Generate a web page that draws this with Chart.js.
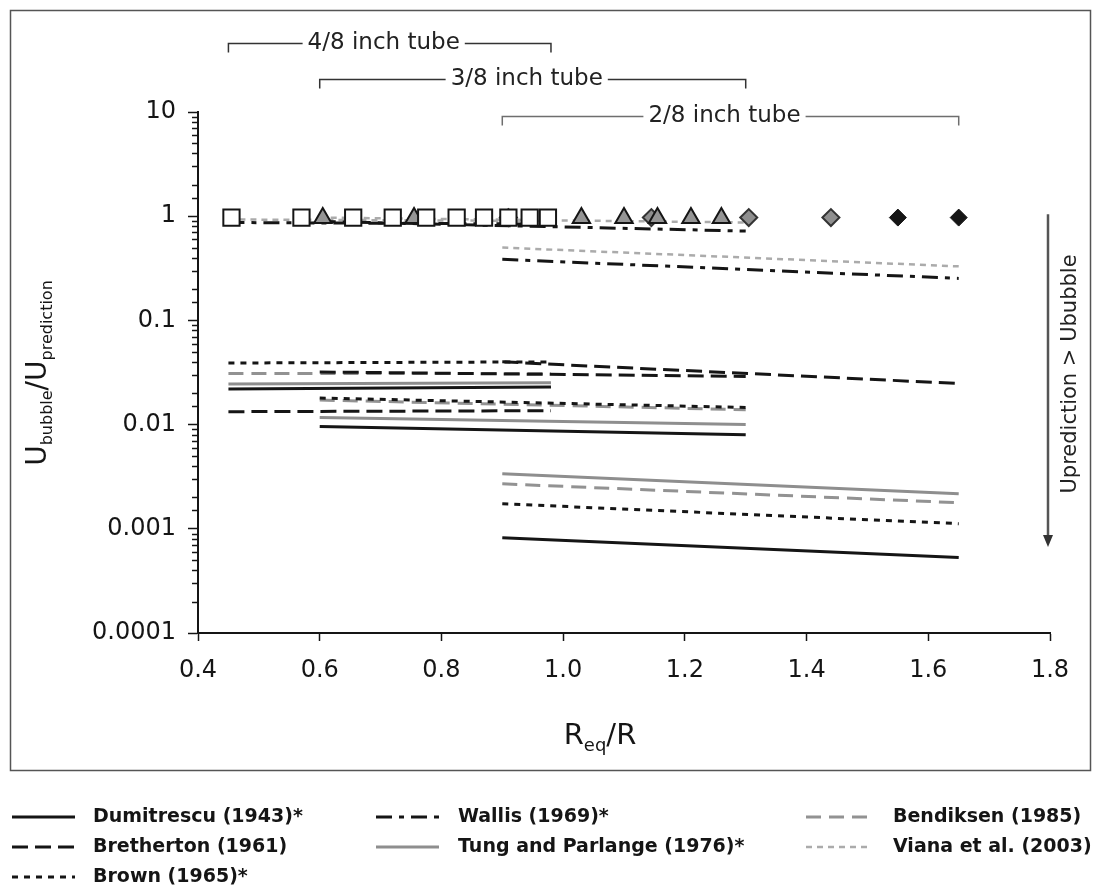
<!DOCTYPE html>
<html>
<head>
<meta charset="utf-8">
<script src="https://cdn.jsdelivr.net/npm/chart.js@4.4.0/dist/chart.umd.min.js"></script>
<style>
  html, body { margin: 0; padding: 0; background: #fff; }
</style>
</head>
<body>
<canvas id="bubbleChart" width="1101" height="896"></canvas>
<script>
// Tube ranges (Req/R) for each tube size
const tubeNames = ["4/8 inch tube", "3/8 inch tube", "2/8 inch tube"];
const tube48X = [0.45, 0.98];
const tube38X = [0.6, 1.3];
const tube28X = [0.9, 1.65];

// Ububble/Uprediction for each correlation: [4/8 tube], [3/8 tube], [2/8 tube]
const correlationNames = [
  "Dumitrescu (1943)*", "Bretherton (1961)", "Brown (1965)*",
  "Wallis (1969)*", "Tung and Parlange (1976)*",
  "Bendiksen (1985)", "Viana et al. (2003)"
];
const dumitrescu = [[0.022, 0.023], [0.0096, 0.0080], [0.00082, 0.00053]];
const bretherton = [[0.0133, 0.0136], [0.032, 0.029], [0.040, 0.0248]];
const brown = [[0.039, 0.040], [0.018, 0.0146], [0.00174, 0.00112]];
const wallis = [[0.87, 0.84], [0.89, 0.72], [0.386, 0.253]];
const tung = [[0.0245, 0.0252], [0.0117, 0.0100], [0.00338, 0.00217]];
const bendiksen = [[0.031, 0.031], [0.0172, 0.0139], [0.0027, 0.00178]];
const viana = [[0.93, 0.90], [0.97, 0.87], [0.50, 0.33]];

// Measured bubble velocities
const squareX = [0.455, 0.57, 0.655, 0.72, 0.775, 0.825, 0.87, 0.91, 0.945, 0.975];
const squareY = [0.97, 0.97, 0.97, 0.97, 0.97, 0.97, 0.97, 0.97, 0.97, 0.97];
const triangleX = [0.605, 0.755, 1.03, 1.10, 1.155, 1.21, 1.26];
const triangleY = [0.96, 0.96, 0.96, 0.96, 0.96, 0.96, 0.96];
const diamondGrayX = [0.91, 1.145, 1.305, 1.44];
const diamondGrayY = [0.97, 0.97, 0.97, 0.97];
const diamondBlackX = [1.55, 1.65];
const diamondBlackY = [0.97, 0.97];

// Tick labels
const xTicks = [0.4, 0.6, 0.8, 1.0, 1.2, 1.4, 1.6, 1.8];
const yRange = [0.0001, 10];

const FONT = "'DejaVu Sans', 'Liberation Sans', sans-serif";
const BLACK = "#151515";

// Line look for each correlation (same order as names)
const lineStyles = [
  { color: BLACK, dash: [], width: 3 },
  { color: BLACK, dash: [16, 7], width: 3 },
  { color: BLACK, dash: [6, 6], width: 3 },
  { color: BLACK, dash: [16, 7, 5, 7], width: 3 },
  { color: "#8e8e8e", dash: [], width: 3 },
  { color: "#929292", dash: [15, 8], width: 3 },
  { color: "#ababab", dash: [6, 5], width: 2.5 }
];
// legend slot [column, row] for each correlation
const legendSlots = [[0, 0], [0, 1], [0, 2], [1, 0], [1, 1], [2, 0], [2, 1]];

const correlationValues = [dumitrescu, bretherton, brown, wallis, tung, bendiksen, viana];
const tubeX = [tube48X, tube38X, tube28X];

function zip(xs, ys) {
  return xs.map((x, i) => ({ x: x, y: ys[i] }));
}

function isPow10(v) {
  const l = Math.log10(v);
  return Math.abs(l - Math.round(l)) < 1e-6;
}

function fmtPow10(v) {
  const e = Math.round(Math.log10(v));
  return e >= 0 ? String(Math.pow(10, e)) : Math.pow(10, e).toFixed(-e);
}

// Build datasets
const datasets = [
  { data: zip(squareX, squareY), pointStyle: "rect", pointRadius: 11.5, backgroundColor: "#fff", borderColor: BLACK, borderWidth: 2, showLine: false, order: 0 },
  { data: zip(triangleX, triangleY), pointStyle: "triangle", pointRadius: 10, backgroundColor: "#959595", borderColor: BLACK, borderWidth: 2, showLine: false, order: 0 },
  { data: zip(diamondGrayX, diamondGrayY), pointStyle: "rectRot", pointRadius: 8.5, backgroundColor: "#8f8f8f", borderColor: "#333", borderWidth: 2, showLine: false, order: 0 },
  { data: zip(diamondBlackX, diamondBlackY), pointStyle: "rectRot", pointRadius: 8.5, backgroundColor: BLACK, borderColor: BLACK, borderWidth: 1, showLine: false, order: 0 }
];

correlationValues.forEach((vals, c) => {
  const st = lineStyles[c];
  vals.forEach((pair, t) => {
    datasets.push({
      label: correlationNames[c],
      data: zip(tubeX[t], pair),
      showLine: true,
      borderColor: st.color,
      borderDash: st.dash,
      borderWidth: st.width,
      pointRadius: 0,
      fill: false,
      order: 1
    });
  });
});

// Draw text pieces (with subscripts) one after another
function drawParts(ctx, parts, cx, baseY) {
  let total = 0;
  parts.forEach(p => {
    ctx.font = p.size + "px " + FONT;
    p.w = ctx.measureText(p.t).width;
    total += p.w;
  });
  let x = cx - total / 2;
  ctx.textAlign = "left";
  ctx.textBaseline = "alphabetic";
  parts.forEach(p => {
    ctx.font = p.size + "px " + FONT;
    ctx.fillText(p.t, x, baseY + p.dy);
    x += p.w;
  });
}

const decorations = {
  id: "decorations",
  afterDraw(chart) {
    const { ctx, chartArea } = chart;
    const xs = chart.scales.x, ys = chart.scales.y;
    ctx.save();

    // outer frame
    ctx.strokeStyle = "#555";
    ctx.lineWidth = 1.5;
    ctx.strokeRect(10.5, 10.5, 1080, 760);

    // minor ticks on the log axis
    ctx.strokeStyle = BLACK;
    ctx.lineWidth = 1.5;
    ys.ticks.forEach(t => {
      if (isPow10(t.value)) return;
      const py = Math.round(ys.getPixelForValue(t.value)) + 0.5;
      ctx.beginPath();
      ctx.moveTo(chartArea.left - 6, py);
      ctx.lineTo(chartArea.left, py);
      ctx.stroke();
    });

    // axis titles
    ctx.fillStyle = BLACK;
    drawParts(ctx, [
      { t: "R", size: 29, dy: 0 },
      { t: "eq", size: 18, dy: 7 },
      { t: "/R", size: 29, dy: 0 }
    ], 600, 744);

    ctx.save();
    ctx.translate(46, 373);
    ctx.rotate(-Math.PI / 2);
    drawParts(ctx, [
      { t: "U", size: 28, dy: 0 },
      { t: "bubble", size: 16, dy: 6 },
      { t: "/U", size: 28, dy: 0 },
      { t: "prediction", size: 16, dy: 6 }
    ], 0, 0);
    ctx.restore();

    // tube brackets
    const bracketY = [43, 79, 116];
    const bracketColor = ["#333", "#333", "#6e6e6e"];
    tubeNames.forEach((name, i) => {
      const x1 = xs.getPixelForValue(tubeX[i][0]);
      const x2 = xs.getPixelForValue(tubeX[i][1]);
      const by = bracketY[i] + 0.5;
      ctx.font = "23px " + FONT;
      const tw = ctx.measureText(name).width;
      const cx = (x1 + x2) / 2 - 6;
      ctx.strokeStyle = bracketColor[i];
      ctx.lineWidth = 1.5;
      ctx.beginPath();
      ctx.moveTo(x1, by + 9);
      ctx.lineTo(x1, by);
      ctx.lineTo(cx - tw / 2 - 5, by);
      ctx.moveTo(cx + tw / 2 + 5, by);
      ctx.lineTo(x2, by);
      ctx.lineTo(x2, by + 9);
      ctx.stroke();
      ctx.fillStyle = "#222";
      ctx.textAlign = "center";
      ctx.textBaseline = "middle";
      ctx.fillText(name, cx, by);
    });

    // right-hand arrow and note
    const ax = chartArea.right - 2;
    const ay1 = ys.getPixelForValue(1) - 2;
    const ay2 = 547;
    ctx.strokeStyle = "#555";
    ctx.fillStyle = "#333";
    ctx.lineWidth = 2.5;
    ctx.beginPath();
    ctx.moveTo(ax, ay1);
    ctx.lineTo(ax, ay2 - 10);
    ctx.stroke();
    ctx.beginPath();
    ctx.moveTo(ax - 5, ay2 - 12);
    ctx.lineTo(ax + 5, ay2 - 12);
    ctx.lineTo(ax, ay2);
    ctx.closePath();
    ctx.fill();

    ctx.save();
    ctx.translate(1071, 374);
    ctx.rotate(-Math.PI / 2);
    ctx.fillStyle = "#222";
    ctx.font = "21px " + FONT;
    ctx.textAlign = "center";
    ctx.textBaseline = "middle";
    ctx.fillText("Uprediction > Ububble", 0, 0);
    ctx.restore();

    // legend
    const colSample = [12, 376, 806];
    const colText = [93, 458, 893];
    const rowY = [817, 847, 877];
    correlationNames.forEach((name, i) => {
      const st = lineStyles[i];
      const col = legendSlots[i][0], row = legendSlots[i][1];
      const ly = rowY[row];
      ctx.strokeStyle = st.color;
      ctx.lineWidth = st.width;
      ctx.setLineDash(st.dash);
      ctx.beginPath();
      ctx.moveTo(colSample[col], ly);
      ctx.lineTo(colSample[col] + 63, ly);
      ctx.stroke();
      ctx.setLineDash([]);
      ctx.fillStyle = BLACK;
      ctx.font = "bold 19px " + FONT;
      ctx.textAlign = "left";
      ctx.textBaseline = "middle";
      ctx.fillText(name, colText[col], ly);
    });

    ctx.restore();
  }
};

new Chart(document.getElementById("bubbleChart"), {
  type: "scatter",
  data: { datasets: datasets },
  plugins: [decorations],
  options: {
    responsive: false,
    animation: false,
    layout: { padding: { left: 10, right: 51, top: 112, bottom: 126 } },
    plugins: { legend: { display: false }, tooltip: { enabled: false } },
    scales: {
      x: {
        type: "linear",
        min: xTicks[0],
        max: xTicks[xTicks.length - 1],
        afterFit: s => { s.height = 137; },
        afterBuildTicks: s => { s.ticks = xTicks.map(v => ({ value: v })); },
        ticks: {
          color: BLACK,
          padding: 15,
          font: { family: FONT, size: 24 },
          callback: v => Number(v).toFixed(1)
        },
        grid: { display: true, drawOnChartArea: false, tickLength: 8, tickColor: BLACK, tickWidth: 1.5 },
        border: { display: true, color: BLACK, width: 2 }
      },
      y: {
        type: "logarithmic",
        min: yRange[0],
        max: yRange[1],
        afterFit: s => { s.width = 188; },
        ticks: {
          autoSkip: false,
          color: BLACK,
          padding: 12,
          font: { family: FONT, size: 24 },
          callback: v => isPow10(v) ? fmtPow10(v) : ""
        },
        grid: {
          display: true,
          drawOnChartArea: false,
          tickLength: 10,
          tickWidth: 1.5,
          tickColor: c => (c.tick && isPow10(c.tick.value)) ? BLACK : "rgba(0,0,0,0)"
        },
        border: { display: true, color: BLACK, width: 2 }
      }
    }
  }
});
</script>
</body>
</html>
